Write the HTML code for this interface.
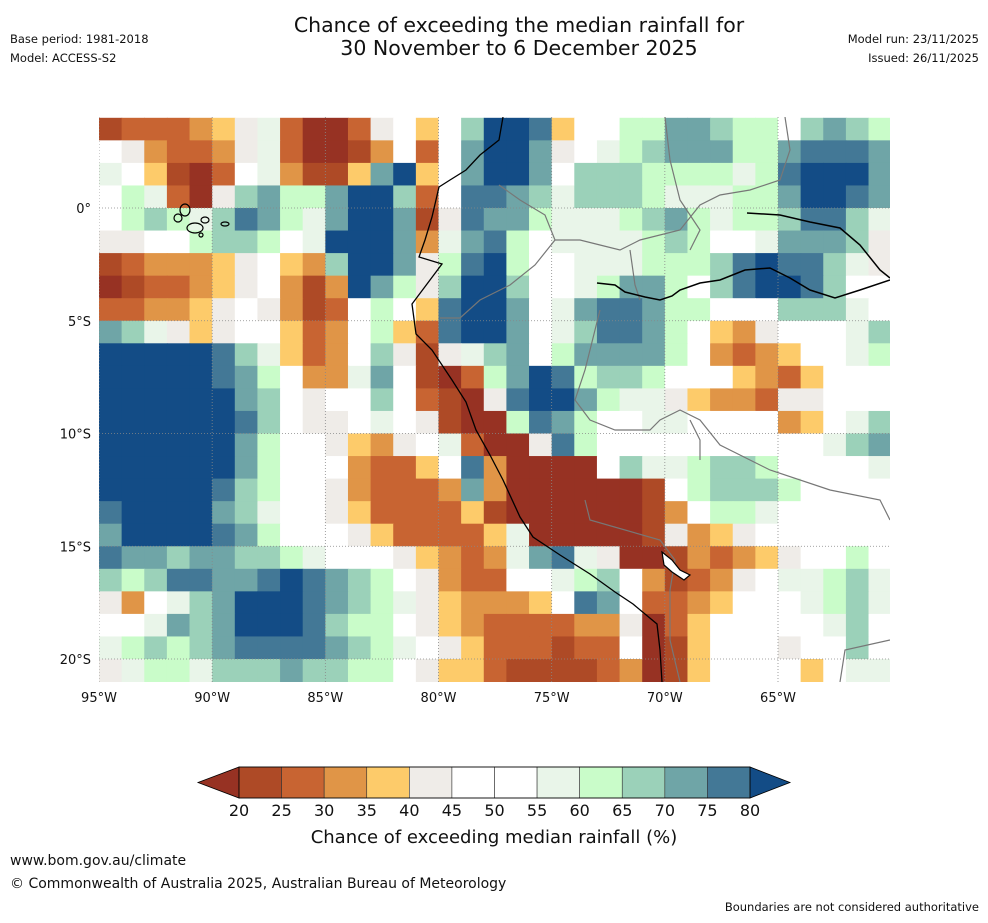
<!DOCTYPE html>
<html><head><meta charset="utf-8">
<style>
body{margin:0;background:#fff;width:988px;height:919px;overflow:hidden;font-family:"DejaVu Sans","Liberation Sans",sans-serif;}
svg text{font-family:"DejaVu Sans","Liberation Sans",sans-serif;}
</style></head>
<body>
<svg id="chart" width="988" height="919" viewBox="0 0 988 919" xmlns="http://www.w3.org/2000/svg">
<text x="519" y="32" font-size="20.5" text-anchor="middle" fill="#111">Chance of exceeding the median rainfall for</text>
<text x="519" y="55" font-size="20.5" text-anchor="middle" fill="#111">30 November to 6 December 2025</text>
<text x="10" y="43" font-size="11.5" fill="#111">Base period: 1981-2018</text>
<text x="10" y="62" font-size="11.5" fill="#111">Model: ACCESS-S2</text>
<text x="979" y="43" font-size="11.5" text-anchor="end" fill="#111">Model run: 23/11/2025</text>
<text x="979" y="62" font-size="11.5" text-anchor="end" fill="#111">Issued: 26/11/2025</text>
<g id="cells"></g>
<g id="overlay"></g>
<g id="axes"></g>
<g id="cbar"></g>
<text x="494" y="843" font-size="18" text-anchor="middle" fill="#111">Chance of exceeding median rainfall (%)</text>
<text x="10" y="865" font-size="14" fill="#111">www.bom.gov.au/climate</text>
<text x="10" y="888" font-size="14" fill="#111">© Commonwealth of Australia 2025, Australian Bureau of Meteorology</text>
<text x="979" y="911" font-size="11.5" text-anchor="end" fill="#111">Boundaries are not considered authoritative</text>
</svg>
<script>
// Category colours (index = category code)
const categoryColors = ["#973223","#ae4a26","#c86432","#e09547","#fdcb6a","#efece8","#ffffff","#e9f5e9","#c9fcc9","#9bd1b9","#6fa5a7","#437896","#134c86"];
const colorbarTicks = [20,25,30,35,40,45,50,55,60,65,70,75,80];
const colorbarBinCodes = [1,2,3,4,5,6,6,7,8,9,10,11];
const lonTicks = [-95,-90,-85,-80,-75,-70,-65];
const latTicks = [0,-5,-10,-15,-20];
const gridLonStart = -95, gridLatStart = 4; // 1-degree cells
// Category codes per 1-degree cell, rows from 4N southwards, columns from 95W eastwards
const fieldRows = [
"12223457200256469CCB46688AA98869A98",
"6532235720013626ACCA56789AAA88ABBBA",
"764102673114AC46ACCA6999888878BCCCA",
"6872059A88ACC926BBA97999877788ACCBA",
"689879BA87ACCA15BAA877789A87889BB97",
"5566899867CCCA37AB867777898667AAA95",
"12333456439CCA58BC8667778889BCBB975",
"01223456313CA859CC96678AA869BCCB966",
"223345653126864BCCA67ABBA8866699976",
"A97545664236842BCCA679BBA8643566679",
"CCCCCB974236951579A68AAAA8632346678",
"CCCCCBA86337A61028ACB89986664324666",
"CCCCCCA96566962105BCCA8775433255666",
"CCCCCCB965567651008BA86677666634679",
"CCCCCCA8665435672005B8666666666679A",
"CCCCCCA866632246B300006977899866667",
"CCCCCB9866532223A300000016899986666",
"BCCCCA97665422224100000013688766666",
"ACCCCBA8666542222470000015345666666",
"BAA9AA9987666543237AB75001323456686",
"989BBAABCBA986532266789631235677897",
"53679ACCCBA9875433346BA622346667897",
"667A9ACCCB9886543222233502466666796",
"78989ABBBBA987654222122601466656696",
"57887999A99886544211112301466664677"
];
const NS="http://www.w3.org/2000/svg";
const X0=99, X1=890, Y0=117, Y1=682;
const pxPerLon=(778-99)/30, pxPerLat=(659-208)/20;
function xScale(lon){return 99+(lon+95)*pxPerLon;}
function yScale(lat){return 208-lat*pxPerLat;}
function mk(tag,attrs,parent){const e=document.createElementNS(NS,tag);for(const k in attrs)e.setAttribute(k,attrs[k]);parent.appendChild(e);return e;}

const cells=document.getElementById('cells');
const clip=mk('clipPath',{id:'mapclip'},document.getElementById('chart'));
mk('rect',{x:X0,y:Y0,width:X1-X0,height:Y1-Y0},clip);
cells.setAttribute('clip-path','url(#mapclip)');
fieldRows.forEach((row,j)=>{
  for(let i=0;i<row.length;i++){
    const code=parseInt(row[i],16);
    const lonW=gridLonStart+i, latN=gridLatStart-j;
    const x=xScale(lonW), y=yScale(latN);
    const r=mk('rect',{x:x.toFixed(2),y:y.toFixed(2),width:(xScale(lonW+1)-x+0.6).toFixed(2),height:(yScale(latN-1)-y+0.6).toFixed(2),fill:categoryColors[code]},cells);
    
    
  }
});

const ov=document.getElementById('overlay');
ov.setAttribute('clip-path','url(#mapclip)');
lonTicks.forEach(l=>{const g=mk('line',{x1:xScale(l),x2:xScale(l),y1:Y0,y2:Y1,stroke:'#888','stroke-width':0.8,'stroke-dasharray':'1,2'},ov);});
latTicks.forEach(l=>{const g=mk('line',{x1:X0,x2:X1,y1:yScale(l),y2:yScale(l),stroke:'#888','stroke-width':0.8,'stroke-dasharray':'1,2'},ov);});
const borders=["M499,185 L520,200 L545,215 L555,240 L535,265 L510,285 L480,300 L460,318 L440,318",
"M555,240 L580,240 L600,245 L620,250 L640,240 L680,230 L700,205 L720,195 L750,190 L780,180 L790,150 L785,117",
"M665,117 L670,160 L680,200 L690,215 L700,230 L690,250",
"M630,250 L635,285 L640,300",
"M600,310 L595,330 L585,370 L575,400 L590,420 L615,430 L650,430 L660,420 L680,410 L700,420 L720,445 L770,470 L830,490 L880,500 L890,520",
"M690,420 L700,440 L700,460",
"M585,500 L590,520 L660,540 L675,560 L670,590 L670,640 L680,682",
"M890,640 L845,650 L840,682"];
borders.forEach(d=>{const p=mk('path',{d:d,fill:'none',stroke:'#777','stroke-width':1.2},ov);});
const coast="M503,117 L499,140 L480,155 L466,170 L450,180 L439,187 L432,217 L425,240 L419,257 L442,264 L430,280 L412,304 L416,334 L432,350 L452,380 L466,402 L476,430 L490,455 L503,480 L520,517 L533,537 L560,555 L590,574 L615,592 L633,604 L657,624 L660,650 L662,682";
const cp=mk('path',{d:coast,fill:'none',stroke:'#000','stroke-width':1.3},ov);
const rivers=["M597,283 L615,285 L625,292 L645,297 L660,300 L672,296 L680,290 L700,283 L720,280 L745,270 L770,268 L790,278 L810,290 L835,298 L860,290 L890,280",
"M747,213 L780,215 L810,222 L840,228 L860,245 L880,270 L890,278"];
rivers.forEach(d=>{const p=mk('path',{d:d,fill:'none',stroke:'#000','stroke-width':1.5},ov);});
[[185,210,5,6],[195,228,8,5],[205,220,4,3],[178,218,4,4],[225,224,4,2],[201,235,2,2]].forEach(e=>{const p=mk('ellipse',{cx:e[0],cy:e[1],rx:e[2],ry:e[3],fill:'none',stroke:'#000','stroke-width':1.2},ov);});
const lt=mk('path',{d:"M662,552 L672,560 L680,570 L690,575 L684,580 L672,572 L664,565 Z",fill:'#fff',stroke:'#000','stroke-width':1.2},ov);

const ax=document.getElementById('axes');
lonTicks.forEach(l=>{const t=mk('text',{x:xScale(l),y:702,'font-size':13,'text-anchor':'middle',fill:'#111'},ax);t.textContent=Math.abs(l)+'°W';});
latTicks.forEach(l=>{const t=mk('text',{x:91,y:yScale(l)+5,'font-size':13,'text-anchor':'end',fill:'#111'},ax);t.textContent=l===0?'0°':Math.abs(l)+'°S';});

const cb=document.getElementById('cbar');
const cbX0=239, cbX1=750, cbY=767, cbH=31;
const bw=(cbX1-cbX0)/(colorbarTicks.length-1);
function cbScale(v){return cbX0+(v-colorbarTicks[0])/(colorbarTicks[colorbarTicks.length-1]-colorbarTicks[0])*(cbX1-cbX0);}
const lt2=mk('polygon',{points:`${cbX0},${cbY} 198,${cbY+cbH/2} ${cbX0},${cbY+cbH}`,fill:categoryColors[0],stroke:'#000','stroke-width':0.8},cb);

const rt=mk('polygon',{points:`${cbX1},${cbY} 790,${cbY+cbH/2} ${cbX1},${cbY+cbH}`,fill:categoryColors[12],stroke:'#000','stroke-width':0.8},cb);

for(let k=0;k<colorbarTicks.length-1;k++){
  const x=cbScale(colorbarTicks[k]);
  const r=mk('rect',{x:x,y:cbY,width:bw,height:cbH,fill:categoryColors[colorbarBinCodes[k]],stroke:'#333','stroke-width':0.6},cb);
  
}
mk('rect',{x:cbX0,y:cbY,width:cbX1-cbX0,height:cbH,fill:'none',stroke:'#000','stroke-width':0.8},cb);
colorbarTicks.forEach(v=>{const t=mk('text',{x:cbScale(v),y:816,'font-size':16,'text-anchor':'middle',fill:'#111'},cb);t.textContent=v;});
</script>
</body></html>
